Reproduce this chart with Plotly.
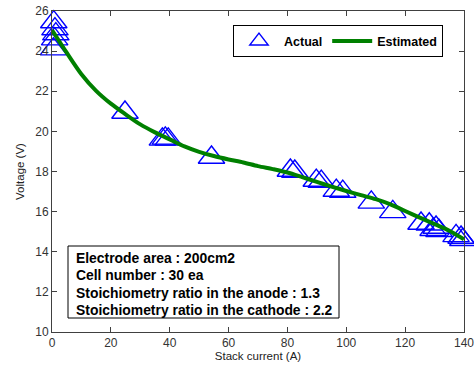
import plotly.graph_objects as go

# Measured (actual) data points
actual_current = [0.6, 1.0, 1.3, 0.9, 0.5,
                  24.8,
                  37.5, 38.5, 39.5,
                  54.2,
                  81.0, 82.5,
                  89.8, 91.5,
                  96.6, 98.8,
                  108.5,
                  115.8,
                  125.4, 128.2, 130.5, 129.5, 131.5,
                  137.3, 139.0, 139.6]
actual_voltage = [25.45, 25.1, 24.85, 24.6, 24.1,
                  20.94,
                  19.6, 19.65, 19.6,
                  18.7,
                  18.05, 18.0,
                  17.55, 17.5,
                  17.05, 17.0,
                  16.46,
                  15.99,
                  15.41, 15.37, 15.21, 15.1, 15.05,
                  14.79, 14.71, 14.6]

# Estimated (model) curve
est_current = [0, 5, 10, 15, 20, 25, 30, 35, 40, 45, 50, 55, 60, 65, 70,
               75, 80, 85, 90, 95, 100, 105, 110, 115, 120, 125, 130, 135, 140]
est_voltage = [25.05, 23.92, 22.85, 22.02, 21.38, 20.85, 20.35, 19.95, 19.6,
               19.25, 18.98, 18.77, 18.6, 18.45, 18.27, 18.12, 17.95, 17.72,
               17.48, 17.25, 17.03, 16.82, 16.62, 16.36, 16.03, 15.7, 15.38,
               15.05, 14.62]

x_ticks = [0, 20, 40, 60, 80, 100, 120, 140]
y_ticks = [10, 12, 14, 16, 18, 20, 22, 24, 26]

info_lines = ["Electrode area : 200cm2",
              "Cell number : 30 ea",
              "Stoichiometry ratio in the anode : 1.3",
              "Stoichiometry ratio in the cathode : 2.2"]

FONT = "Liberation Sans, Arial, sans-serif"

# plot-area geometry (pixels) used to place the info box
PL, PR, PT, PB = 52, 464, 11, 332
PW, PH = PR - PL, PB - PT


def px_x(p):
    return (p - PL) / PW


def px_y(p):
    return (PB - p) / PH


fig = go.Figure()
fig.add_trace(go.Scatter(
    x=actual_current, y=actual_voltage, mode="markers", name="Actual",
    marker=dict(symbol="triangle-up-open", size=23, color="#0000ff",
                line=dict(width=1.4, color="#0000ff")),
    cliponaxis=False,
))
fig.add_trace(go.Scatter(
    x=est_current, y=est_voltage, mode="lines", name="Estimated",
    line=dict(color="#008000", width=4, shape="spline", smoothing=0.8),
    cliponaxis=False,
))

axis_common = dict(
    showline=True, linecolor="#404040", linewidth=1, mirror="ticks",
    ticks="inside", ticklen=5, tickcolor="#404040", showgrid=False,
    zeroline=False, automargin=False, ticklabeloverflow="allow",
    tickfont=dict(family=FONT, size=12, color="#333"),
)

annotations = []
line_y = [258, 275.3, 292.5, 309.7]
for txt, yy in zip(info_lines, line_y):
    annotations.append(dict(
        xref="paper", yref="paper", x=px_x(74), y=px_y(yy),
        xanchor="left", yanchor="middle", align="left", showarrow=False,
        text=txt, font=dict(family=FONT, size=13.9, color="black", weight="bold"),
    ))

fig.update_layout(
    width=474, height=369,
    margin=dict(l=PL, r=474 - PR, t=PT, b=369 - PB),
    paper_bgcolor="white", plot_bgcolor="white",
    font=dict(family=FONT, size=12, color="#222"),
    xaxis=dict(range=[0, 140], tickvals=x_ticks,
               title=dict(text="Stack current (A)", font=dict(size=11.5), standoff=2),
               **axis_common),
    yaxis=dict(range=[10, 26], tickvals=y_ticks,
               title=dict(text="Voltage (V)", font=dict(size=11.5), standoff=8),
               **axis_common),
    showlegend=True,
    legend=dict(orientation="h", x=0.949, xanchor="right", y=0.955,
                yanchor="top", bgcolor="white", bordercolor="black",
                borderwidth=1, font=dict(family=FONT, size=12.5, color="black",
                                         weight="bold"),
                itemwidth=40, tracegroupgap=0),
    shapes=[dict(type="rect", xref="paper", yref="paper",
                 x0=px_x(68), x1=px_x(339), y0=px_y(318), y1=px_y(246),
                 line=dict(color="black", width=1), fillcolor="white",
                 layer="above")],
    annotations=annotations,
)

fig.write_html("out.html",
               config={"displayModeBar": False},
               post_script="document.body.style.margin='0px';"
                           "document.body.style.overflow='hidden';")
